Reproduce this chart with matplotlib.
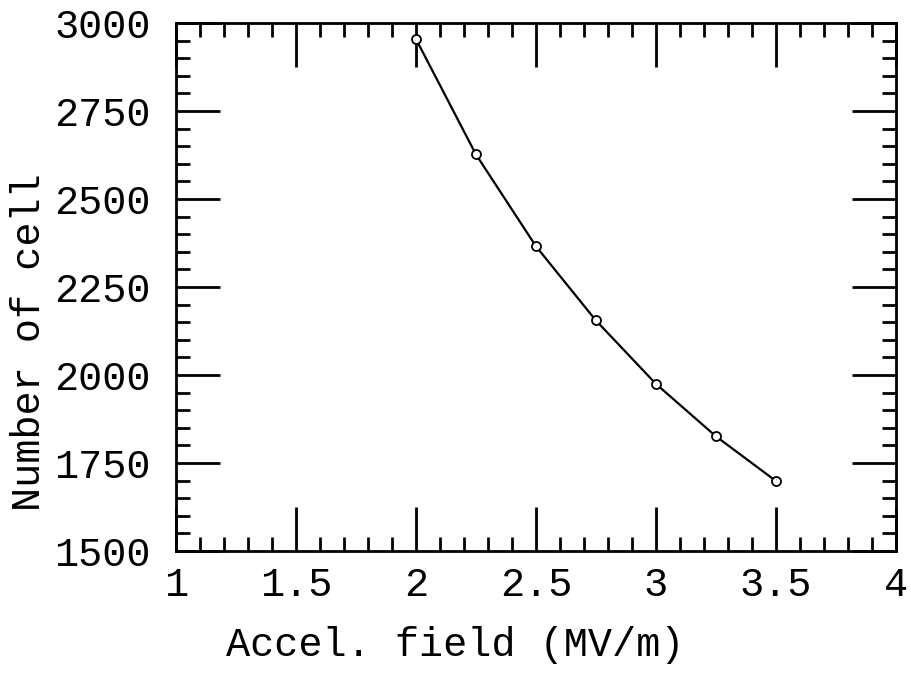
import matplotlib
matplotlib.use("Agg")
import matplotlib.pyplot as plt
from matplotlib.ticker import MultipleLocator

field = [2.0, 2.25, 2.5, 2.75, 3.0, 3.25, 3.5]
cells = [2955, 2627, 2366, 2155, 1975, 1826, 1699]
xticks = [1, 1.5, 2, 2.5, 3, 3.5, 4]
xticklabels = ["1", "1.5", "2", "2.5", "3", "3.5", "4"]
yticks = [1500, 1750, 2000, 2250, 2500, 2750, 3000]

plt.rcParams['font.family'] = ['Liberation Mono', 'DejaVu Sans Mono']

fig = plt.figure(figsize=(9.11, 6.77), dpi=100)
ax = fig.add_axes([0.193, 0.186, 0.7905, 0.780])

ax.plot(field, cells, color='black', lw=1.6, marker='o', ms=6.5,
        mfc='white', mec='black', mew=1.3)

ax.set_xlim(1, 4)
ax.set_ylim(1500, 3000)
ax.set_xticks(xticks)
ax.set_xticklabels(xticklabels)
ax.set_yticks(yticks)
ax.xaxis.set_minor_locator(MultipleLocator(0.1))
ax.yaxis.set_minor_locator(MultipleLocator(50))

ax.tick_params(which='both', direction='in', top=True, right=True,
               width=2, colors='black', labelsize=29)
ax.tick_params(which='major', length=32)
ax.tick_params(which='minor', length=10)
ax.tick_params(axis='x', which='major', pad=11)
ax.tick_params(axis='y', which='major', pad=18)
for s in ax.spines.values():
    s.set_linewidth(2)

fig.text(0.5, 0.047, "Accel. field (MV/m)", ha='center', va='center', fontsize=29)
fig.text(0.032, 0.495, "Number of cell", ha='center', va='center', rotation=90, fontsize=29)

fig.savefig("out.png", dpi=100)
